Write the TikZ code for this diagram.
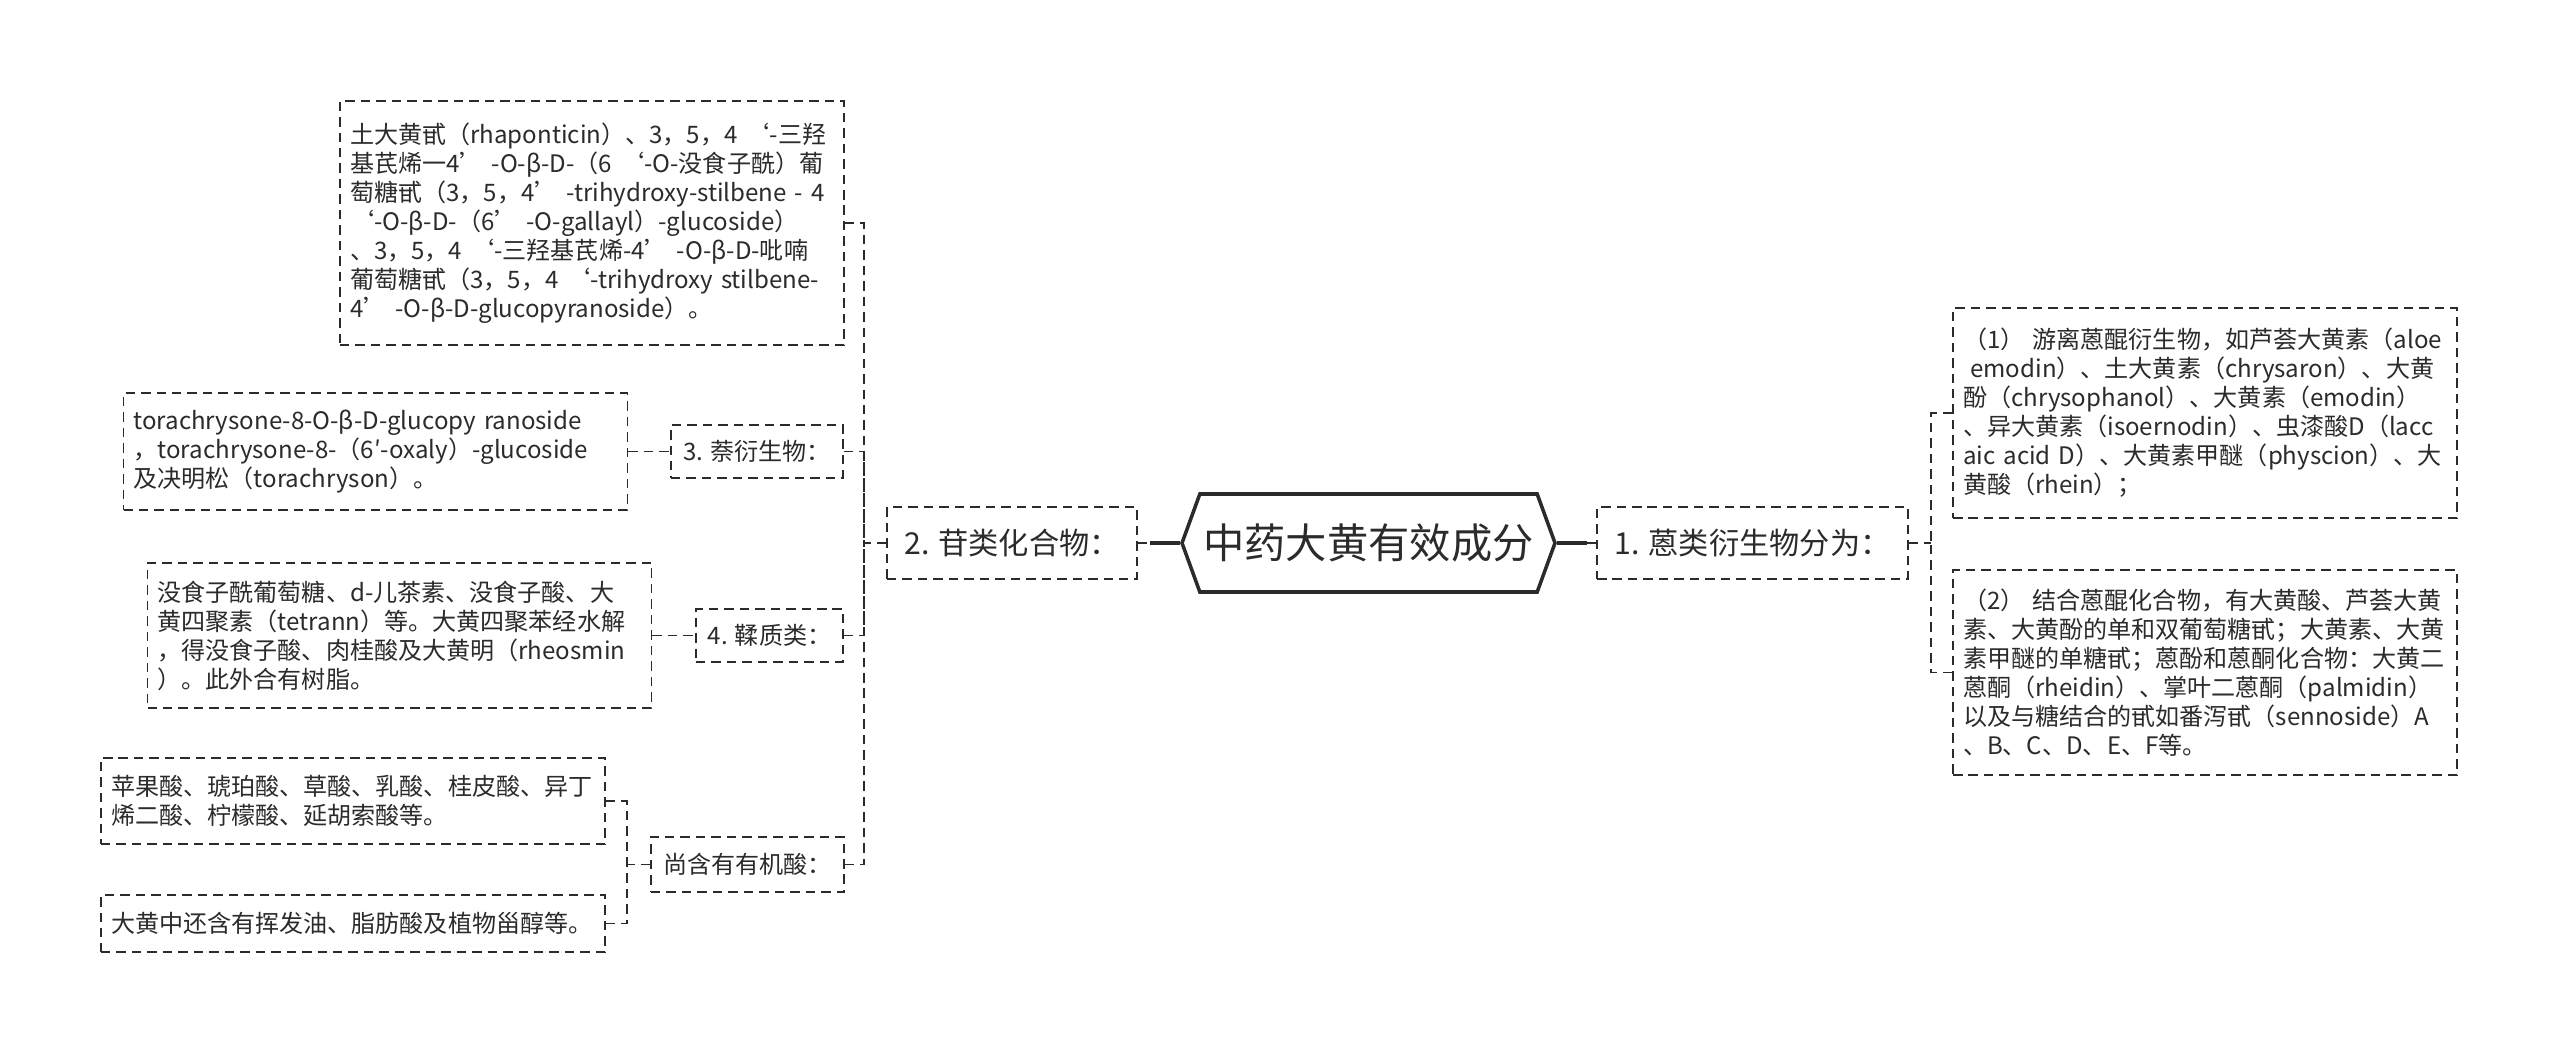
\documentclass[tikz,border=0pt]{standalone}
\usepackage{fontspec}
\usepackage{tikz}
\usetikzlibrary{shapes.symbols, positioning, calc}
\setmainfont{Noto Sans CJK SC}
\definecolor{InkGray}{HTML}{2B2B2B}

\begin{document}
\begin{tikzpicture}[
    box/.style={draw=InkGray, dash pattern=on 5.4pt off 3.4pt, line width=1.1pt, text=InkGray, align=left, inner sep=0pt},
    txt/.style={box, font=\fontsize{13.7}{16.5}\selectfont, inner xsep=0.2cm, text width=9.68cm},
    sub/.style={box, font=\fontsize{13.7}{16.5}\selectfont, minimum height=1.06cm},
    mid/.style={box, font=\fontsize{17.2}{19}\selectfont, minimum height=1.44cm},
    root/.style={shape=signal, signal to=west and east, signal pointer angle=140, draw=InkGray, line width=2pt,
                 text=InkGray, font=\fontsize{23.5}{26}\selectfont, minimum width=7.46cm, minimum height=1.96cm, inner sep=0pt},
    link/.style={draw=InkGray, dash pattern=on 5.4pt off 3.4pt, line width=1.1pt},
    stem/.style={draw=InkGray, line width=2pt}]
    \fill[white] (0,0) rectangle (51.2,-21.1);
    \useasboundingbox (0,0) rectangle (51.2,-21.1);

    % Nodes
    \node[root] (root) at (27.37,-10.86) {中药大黄有效成分};
    \node[mid, minimum width=5cm] (gan) at (20.24,-10.86) {2. 苷类化合物：};
    \node[mid, minimum width=6.22cm] (anthra) at (35.05,-10.86) {1. 蒽类衍生物分为：};

    % Right side
    \node[txt, minimum height=4.2cm] (free) at (44.1,-8.26) {（1）~游离蒽醌衍生物，如芦荟大黄素（aloe\\
        \hspace*{0.3em}emodin）、土大黄素（chrysaron）、大黄\\
        酚（chrysophanol）、大黄素（emodin）\\
        、异大黄素（isoernodin）、虫漆酸D（lacc\\
        aic~acid~D）、大黄素甲醚（physcion）、大\\
        黄酸（rhein）；};
    \node[txt, minimum height=4.1cm] (bound) at (44.1,-13.45) {（2）~结合蒽醌化合物，有大黄酸、芦荟大黄\\
        素、大黄酚的单和双葡萄糖甙；大黄素、大黄\\
        素甲醚的单糖甙；蒽酚和蒽酮化合物：大黄二\\
        蒽酮（rheidin）、掌叶二蒽酮（palmidin）\\
        以及与糖结合的甙如番泻甙（sennoside）A\\
        、B、C、D、E、F等。};

    % Left side
    \node[txt, minimum height=4.88cm] (stil) at (11.84,-4.46) {土大黄甙（rhaponticin）、3，5，4~‘-三羟\\
        基芪烯一4’~-O-β-D-（6~‘-O-没食子酰）葡\\
        萄糖甙（3，5，4’~-trihydroxy-stilbene~-~4\\
        ‘-O-β-D-（6’~-O-gallayl）-glucoside）\\
        、3，5，4~‘-三羟基芪烯-4’~-O-β-D-吡喃\\
        葡萄糖甙（3，5，4~‘-trihydroxy~stilbene-\\
        4’~-O-β-D-glucopyranoside）。};
    \node[sub, minimum width=3.44cm] (naph) at (15.14,-9.03) {3. 萘衍生物：};
    \node[txt, minimum height=2.34cm] (naphtxt) at (7.51,-9.03) {torachrysone-8-O-β-D-glucopy~ranoside\\
        ，torachrysone-8-（6′-oxaly）-glucoside\\
        及决明松（torachryson）。};
    \node[sub, minimum width=2.94cm] (tannin) at (15.39,-12.71) {4. 鞣质类：};
    \node[txt, minimum height=2.9cm] (tannintxt) at (7.99,-12.71) {没食子酰葡萄糖、d-儿茶素、没食子酸、大\\
        黄四聚素（tetrann）等。大黄四聚苯经水解\\
        ，得没食子酸、肉桂酸及大黄明（rheosmin\\
        ）。此外合有树脂。};
    \node[sub, minimum width=3.86cm, minimum height=1.1cm] (acid) at (14.95,-17.29) {尚含有有机酸：};
    \node[txt, minimum height=1.72cm] (acidtxt) at (7.06,-16.02) {苹果酸、琥珀酸、草酸、乳酸、桂皮酸、异丁\\
        烯二酸、柠檬酸、延胡索酸等。};
    \node[txt, minimum height=1.14cm] (oiltxt) at (7.06,-18.47) {大黄中还含有挥发油、脂肪酸及植物甾醇等。};

    % Paths
    \coordinate (rbus) at (38.62,-10.86);
    \coordinate (lbus) at (17.28,-10.86);
    \coordinate (abus) at (12.54,-17.29);
    \draw[link] (gan.east) -- (root.west);
    \draw[link] (anthra.west) -- (root.east);
    \draw[stem] (root.west) -- ++(-0.6,0);
    \draw[stem] (root.east) -- ++(0.6,0);
    \draw[link] (anthra.east) -- (rbus);
    \foreach \n in {free, bound}
        \draw[link] (\n.west) -| (rbus);
    \draw[link] (gan.west) -- (lbus);
    \foreach \n in {stil, naph, tannin, acid}
        \draw[link] (\n.east) -| (lbus);
    \draw[link] (naphtxt.east) -- (naph.west);
    \draw[link] (tannintxt.east) -- (tannin.west);
    \draw[link] (acid.west) -- (abus);
    \foreach \n in {acidtxt, oiltxt}
        \draw[link] (\n.east) -| (abus);
\end{tikzpicture}
\end{document}
